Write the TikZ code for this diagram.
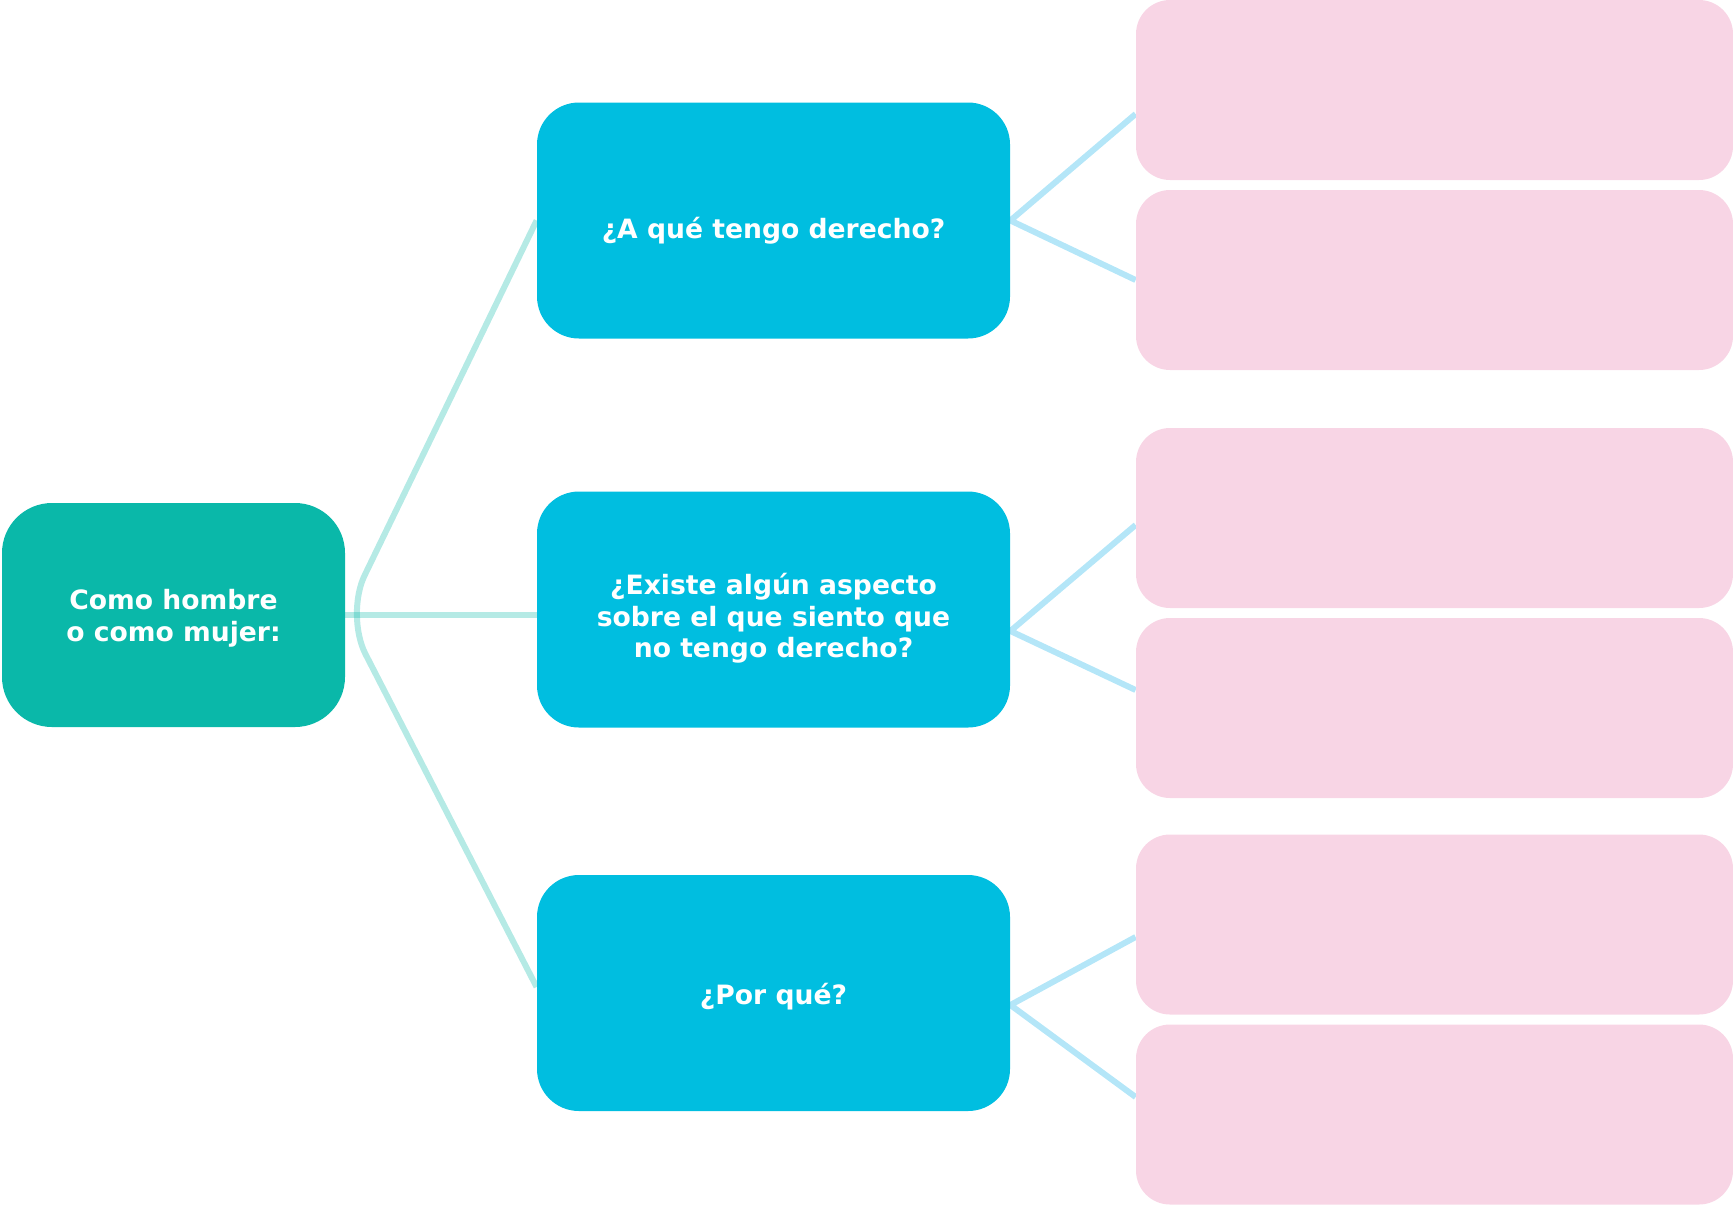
\documentclass[tikz,border=0pt]{standalone}
\usepackage{fontspec}
\setmainfont{DejaVu Sans}
\usetikzlibrary{backgrounds}
\definecolor{verde}{HTML}{0AB8A9}
\definecolor{celeste}{HTML}{00BEE0}
\definecolor{rosa}{HTML}{F8D5E5}
\definecolor{lineaceleste}{HTML}{B4E6F8}
\begin{document}
\begin{tikzpicture}[x=0.5pt,y=-0.5pt,font=\fontsize{13.3}{15.8}\selectfont\bfseries, line join=round, line cap=round,
	raiz/.style={fill=verde,rounded corners=25pt,minimum width=171.5pt,minimum height=112pt,inner sep=0pt},
	pregunta/.style={fill=celeste,rounded corners=21pt,minimum width=236.5pt,minimum height=118pt,inner sep=0pt},
	respuesta/.style={fill=rosa,rounded corners=17pt,minimum width=298.5pt,minimum height=90pt,inner sep=0pt},
	texto/.style={text=white,align=center,inner sep=0pt},
	rama/.style={draw=verde,draw opacity=0.3,line width=3pt},
	hoja/.style={draw=lineaceleste,line width=3pt}]
					\useasboundingbox (0,0) rectangle (1733,1205);
					\node[raiz] (raiz) at (173.5,615) {};
					\node[pregunta] (b1) at (773.5,220.5) {};
					\node[pregunta] (b2) at (773.5,609.5) {};
					\node[pregunta] (b3) at (773.5,993) {};
					\node[texto] (traiz) at ([yshift=-1.5pt]raiz.center) {Como hombre\\o como mujer:};
					\node[texto] (tb1) at ([yshift=-5pt]b1.center) {¿A qué tengo derecho?};
					\node[texto] (tb2) at ([yshift=-4.5pt]b2.center) {¿Existe algún aspecto\\sobre el que siento que\\no tengo derecho?};
					\node[texto] (tb3) at ([yshift=-2pt]b3.center) {¿Por qué?};
					\foreach \n/\y in {p1/90,p2/280,p3/518,p4/708,p5/924.5,p6/1114.5}{
						\node[respuesta] (\n) at (1434.5,\y) {};}
					\begin{pgfonlayer}{background}
					\draw[rama,rounded corners=22pt] (b1.west) -- (raiz.east) -- ([yshift=3pt]b3.west);
					\draw[rama] (raiz.east) -- (raiz.east -| b2.west);
					\draw[hoja] ([yshift=-12pt]p1.west) -- (b1.east) -- (p2.west);
					\draw[hoja] ([yshift=-3.5pt]p3.west) -- ([yshift=-10.75pt]b2.east) -- ([yshift=9pt]p4.west);
					\draw[hoja] ([yshift=-6.25pt]p5.west) -- ([yshift=-6pt]b3.east) -- ([yshift=8.75pt]p6.west);
					\end{pgfonlayer}
				\end{tikzpicture}
\end{document}
